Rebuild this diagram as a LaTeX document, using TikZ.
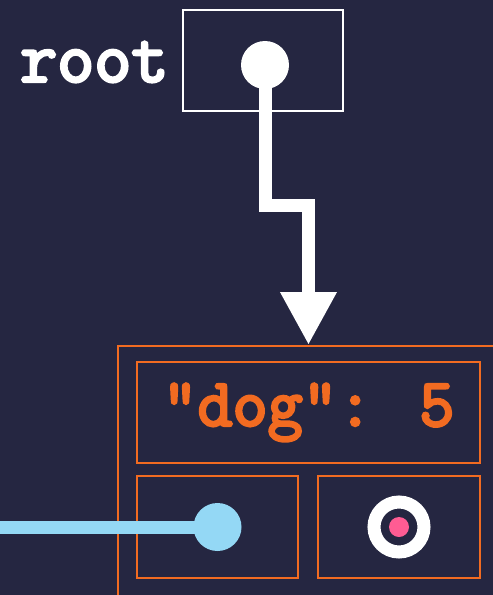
\documentclass[tikz,border=0pt]{standalone}
\usepackage{fontspec}
\newfontfamily\codefont{Latin Modern Mono}[FakeBold=4]
\usetikzlibrary{arrows.meta,positioning,calc}
\definecolor{bgnavy}{RGB}{37,38,65}
\definecolor{boxorange}{RGB}{242,107,33}
\definecolor{ptrblue}{RGB}{148,216,245}
\definecolor{nilpink}{RGB}{255,92,147}

\begin{document}
\begin{tikzpicture}[
    x=1pt,y=-1pt,
    cell/.style={rectangle,draw=boxorange,line width=2pt,inner sep=0pt},
    rootcell/.style={rectangle,draw=white,line width=2pt,inner sep=0pt,
                     minimum width=160pt,minimum height=101pt},
    dot/.style={circle,inner sep=0pt,minimum size=48pt},
    lbl/.style={font=\codefont\fontsize{72}{72}\selectfont},
    ptr/.style={-{Triangle[length=53pt,width=53pt]},white,line width=13pt,line join=miter},
]

% ---- background and page ----
\useasboundingbox (0,0) rectangle (493,595);
\fill[bgnavy] (0,0) rectangle (493,595);

% ---- root variable ----
\node[lbl,text=white,anchor=east] (rootlbl) at (172,62) {root};
\node[rootcell] (root) at (263,60.5) {};
\node[dot,fill=white] (rootdot) at (265,65) {};

% ---- entry with key/value and two links ----
\node[cell,minimum width=400pt,minimum height=270pt,anchor=north west] (entry) at (117,345) {};
\node[cell,minimum width=343pt,minimum height=101pt] (keyval) at (308.5,412.5)
  {\codefont\fontsize{68}{68}\selectfont\color{boxorange}"dog": 5};
\node[cell,minimum width=161pt,minimum height=102pt] (prevcell) at (217.5,527) {};
\node[cell,minimum width=162pt,minimum height=102pt] (nextcell) at (399,527) {};

% previous link comes in from the left
\coordinate (prevend) at (0,527);
\draw[ptrblue,line width=13pt] (prevend) -- (prevcell.center);
\node[dot,fill=ptrblue] (prevdot) at (prevcell.center) {};

% next link is empty
\node[circle,draw=white,line width=13pt,minimum size=50pt,inner sep=0pt] (nextring) at (nextcell.center) {};
\node[circle,fill=nilpink,minimum size=20pt,inner sep=0pt] (nextdot) at (nextcell.center) {};

% ---- pointer from root ----
\draw[ptr] (rootdot.center) -- ++(0,140) -| (keyval.north |- entry.north);

\end{tikzpicture}
\end{document}
